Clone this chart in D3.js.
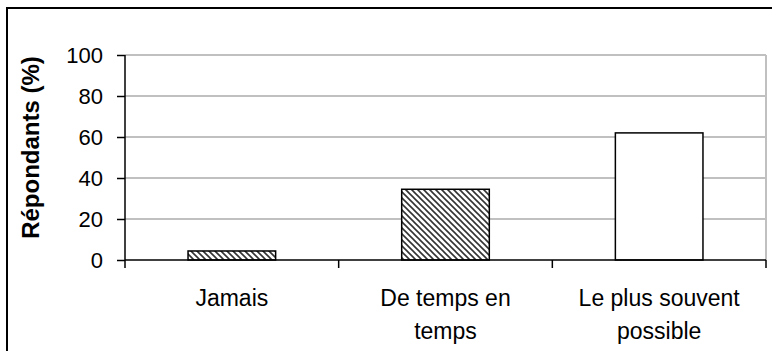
<!DOCTYPE html>
<html>
<head>
<meta charset="utf-8">
<script src="https://cdn.jsdelivr.net/npm/d3@7"></script>
<style>
html,body{margin:0;padding:0;background:#fff;}
svg{display:block;font-family:"Liberation Sans",Arial,sans-serif;}
</style>
</head>
<body>
<svg id="chart" width="772" height="351"></svg>
<script>
const categories = [["Jamais"], ["De temps en", "temps"], ["Le plus souvent", "possible"]];
const values = [4.4, 34.5, 62];
const fills = ["hatch", "hatch", "plain"];
const yTicks = [0, 20, 40, 60, 80, 100];
const yTitle = "Répondants (%)";

(function () {
const svg = d3.select("#chart");
const W = 772, H = 351;
const pLeft = 125, pRight = 766, pTop = 55, pBottom = 260;

// outer frame (cropped on right/bottom)
svg.append("rect").attr("x", 7).attr("y", 8).attr("width", W).attr("height", H)
  .attr("fill", "none").attr("stroke", "#000").attr("stroke-width", 2);

const defs = svg.append("defs");
const pat = defs.append("pattern").attr("id", "hatch").attr("patternUnits", "userSpaceOnUse")
  .attr("width", 6).attr("height", 6);
pat.append("rect").attr("width", 6).attr("height", 6).attr("fill", "#fff");
pat.append("path").attr("d", "M-3,3 L3,9 M0,0 L6,6 M3,-3 L9,3")
  .attr("stroke", "#333").attr("stroke-width", 1.6);

const idx = categories.map((c, i) => i);
const x = d3.scaleBand().domain(idx).range([pLeft, pRight]).paddingInner(0.59).paddingOuter(0.295);
const y = d3.scaleLinear().domain([0, 100]).range([pBottom, pTop]);

// gridlines
svg.append("g").selectAll("line").data(yTicks.filter(t => t > 0)).join("line")
  .attr("x1", pLeft).attr("x2", pRight).attr("y1", d => y(d)).attr("y2", d => y(d))
  .attr("stroke", "#c0c0c0").attr("stroke-width", 2);
svg.append("line").attr("x1", pRight).attr("x2", pRight).attr("y1", y(100)).attr("y2", y(0))
  .attr("stroke", "#c0c0c0").attr("stroke-width", 2);

// bars
svg.append("g").selectAll("rect").data(values).join("rect")
  .attr("x", (d, i) => x(i)).attr("width", x.bandwidth())
  .attr("y", d => y(d)).attr("height", d => y(0) - y(d))
  .attr("fill", (d, i) => fills[i] === "hatch" ? "url(#hatch)" : "#fff")
  .attr("stroke", "#000").attr("stroke-width", 1.5);

// y axis
const yAxis = d3.axisLeft(y).tickValues(yTicks).tickSize(8).tickPadding(14);
const gy = svg.append("g").attr("transform", `translate(${pLeft},0)`).call(yAxis);
gy.select(".domain").attr("stroke", "#000").attr("stroke-width", 1.5).attr("d", `M0,${y(100)}V${y(0)}`);
gy.selectAll(".tick line").attr("stroke", "#000").attr("stroke-width", 1.5);
gy.selectAll(".tick text").attr("font-size", 22).attr("fill", "#000")
  .attr("font-family", "'Liberation Sans', Arial, sans-serif");

// x axis with ticks at category boundaries
const bounds = [0, 1, 2, 3].map(i => pLeft + (pRight - pLeft) * i / 3);
svg.append("line").attr("x1", pLeft).attr("x2", pRight).attr("y1", y(0)).attr("y2", y(0))
  .attr("stroke", "#000").attr("stroke-width", 1.5);
svg.append("g").selectAll("line").data(bounds).join("line")
  .attr("x1", d => d).attr("x2", d => d).attr("y1", y(0)).attr("y2", y(0) + 8)
  .attr("stroke", "#000").attr("stroke-width", 1.5);

// category labels
const lab = svg.append("g").selectAll("text").data(categories).join("text")
  .attr("text-anchor", "middle").attr("font-size", 23).attr("fill", "#000")
  .attr("x", (d, i) => x(i) + x.bandwidth() / 2).attr("y", 306);
lab.selectAll("tspan").data(d => d).join("tspan")
  .attr("x", function () { return d3.select(this.parentNode).attr("x"); })
  .attr("dy", (d, j) => j === 0 ? 0 : 33).text(d => d);

// y title
svg.append("text").attr("transform", `translate(39,${(pTop + pBottom) / 2 - 10}) rotate(-90)`)
  .attr("text-anchor", "middle").attr("font-size", 24).attr("font-weight", "bold")
  .attr("fill", "#000").text(yTitle);
})();
</script>
</body>
</html>
